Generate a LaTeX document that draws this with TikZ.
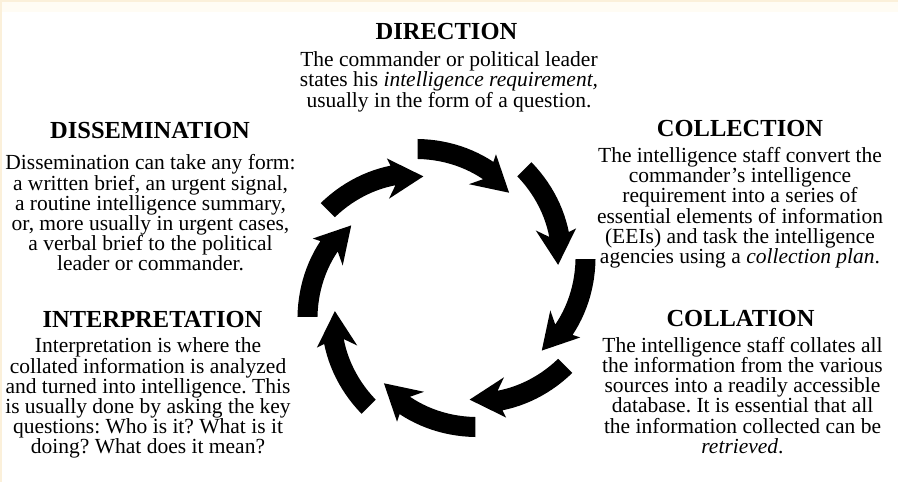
\documentclass[tikz,border=0pt]{standalone}
\usepackage{fontspec}
\setmainfont{Liberation Serif}
\frenchspacing
\definecolor{paperedge}{RGB}{251,240,218}
\definecolor{paperfaint}{RGB}{255,252,244}
\tikzset{
  x=1pt,y=1pt,
  headtxt/.style={font=\fontsize{24.5}{24.5}\selectfont\bfseries, anchor=base, inner sep=0pt},
  bodytxt/.style={font=\fontsize{21.5}{20.2}\selectfont\frenchspacing, align=center, anchor=base, inner sep=0pt},
  cyclearrow/.style={fill=black, draw=none}
}
\begin{document}
\begin{tikzpicture}
\useasboundingbox (0,0) rectangle (898,482);
\fill[white] (0,0) rectangle (898,482);
\fill[paperfaint] (0,470) rectangle (898,482);
\fill[paperedge] (0,479.5) rectangle (898,482);
\fill[paperedge] (0,0) rectangle (2,482);

% cycle of eight arrows
\coordinate (C) at (446.5,194);
\begin{scope}[shift={(C)}]
\foreach \k in {0,...,7}{
  \pgfmathsetmacro\ang{102-45*\k}
  \fill[cyclearrow] ({\ang-1}:151.8)
    -- plot[domain=1:32.4, samples=14] ({\ang-\x}:{151.8-0.55*(\x-1)})
    -- ({\ang-32.3}:142.6)
    -- ({\ang-45.3}:114)
    -- ({\ang-24.2}:106.2)
    -- ({\ang-30.6}:114.8)
    -- plot[domain=30.6:-0.6, samples=14] ({\ang-\x}:{132.2-0.56*(\x+0.6)})
    -- cycle;
}
\end{scope}

% DIRECTION
\node[headtxt] (dirH) at (446.5,442.7) {DIRECTION};
\node[bodytxt] (dirB) at (449,374.8) {The commander or political leader\\
states his \textit{intelligence requirement,}\\
usually in the form of a question.};

% DISSEMINATION
\node[headtxt] (disH) at (150,343.7) {DISSEMINATION};
\node[bodytxt] (disB) at (150.5,211) {Dissemination can take any form:\\
a written brief, an urgent signal,\\
a routine intelligence summary,\\
or, more usually in urgent cases,\\
a verbal brief to the political\\
leader or commander.};

% COLLECTION
\node[headtxt] (colH) at (740,345.3) {COLLECTION};
\node[bodytxt] (colB) at (740,218.5) {The intelligence staff convert the\\
commander's intelligence\\
requirement into a series of\\
essential elements of information\\
(EEIs) and task the intelligence\\
agencies using a \textit{collection plan}.};

% COLLATION
\node[headtxt] (cltH) at (740.5,155.3) {COLLATION};
\node[bodytxt] (cltB) at (742.5,28.7) {The intelligence staff collates all\\
the information from the various\\
sources into a readily accessible\\
database. It is essential that all\\
the information collected can be\\
\textit{retrieved}.};

% INTERPRETATION
\node[headtxt] (intH) at (152.5,154.7) {INTERPRETATION};
\node[bodytxt] (intB) at (148,28) {Interpretation is where the\\
collated information is analyzed\\
and turned into intelligence. This\\
is usually done by asking the key\\
questions: Who is it? What is it\\
doing? What does it mean?};
\end{tikzpicture}
\end{document}
